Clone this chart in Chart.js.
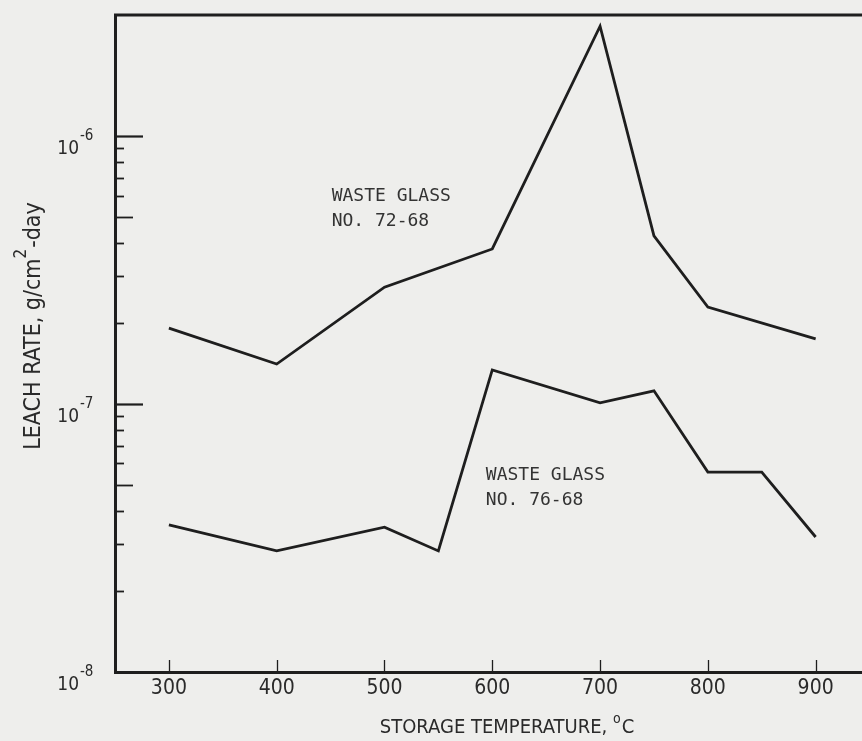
<!DOCTYPE html>
<html><head><meta charset="utf-8">
<script src="https://cdn.jsdelivr.net/npm/chart.js@4/dist/chart.umd.min.js"></script>
<style>html,body{margin:0;padding:0;background:#eeeeec;} #wrap{width:862px;height:741px;position:relative;}</style>
</head><body><div id="wrap"><canvas id="c" width="862" height="741"></canvas></div>
<script>
// ---- data ----
const temps7268 = [300, 400, 500, 600, 700, 750, 800, 900];
const leach7268 = [1.92e-7, 1.41e-7, 2.73e-7, 3.79e-7, 2.57e-6, 4.24e-7, 2.30e-7, 1.75e-7];
const temps7668 = [300, 400, 500, 550, 600, 700, 750, 800, 850, 900];
const leach7668 = [3.54e-8, 2.83e-8, 3.47e-8, 2.83e-8, 1.34e-7, 1.01e-7, 1.12e-7, 5.57e-8, 5.57e-8, 3.19e-8];
const xTickLabels = [300, 400, 500, 600, 700, 800, 900];
const yDecades = [1e-8, 1e-7, 1e-6];
const yDecadeExponents = ['-8', '-7', '-6'];
const seriesNames = [['WASTE GLASS', 'NO. 72-68'], ['WASTE GLASS', 'NO. 76-68']];
const xTitle = 'STORAGE TEMPERATURE, ';
const xTitleUnit = 'C';
const yTitleParts = ['LEACH RATE, g/cm', '2', '-day'];

const INK = '#1e1e1e';
const TXT = '#2a2a2a';
const NARROW = '"Liberation Sans Narrow", "DejaVu Sans Condensed", "Arial Narrow", sans-serif';
const MONO = '"DejaVu Sans Mono", "Liberation Mono", monospace';

const decor = {
  id: 'decor',
  beforeDraw(chart) {
    const c = chart.ctx;
    c.save(); c.fillStyle = '#eeeeec'; c.fillRect(0, 0, chart.width, chart.height); c.restore();
  },
  afterDraw(chart) {
    const c = chart.ctx, a = chart.chartArea;
    const xs = chart.scales.x, ys = chart.scales.y;
    c.save();
    c.strokeStyle = INK;
    // top frame line
    c.lineWidth = 3;
    c.beginPath(); c.moveTo(a.left - 1, a.top); c.lineTo(a.right, a.top); c.stroke();
    // y ticks (inward)
    for (let d = 0; d < yDecades.length; d++) {
      for (let m = 1; m <= 9; m++) {
        const v = m * yDecades[d];
        if (v > 1e-6 * 1.0001 || (d === 0 && m === 1)) continue;
        const len = m === 1 ? 28 : (m === 5 ? 18 : 9);
        const py = Math.round(ys.getPixelForValue(v)) + 0.5;
        c.lineWidth = m === 1 ? 2.2 : 1.8;
        c.beginPath(); c.moveTo(a.left, py); c.lineTo(a.left + len, py); c.stroke();
      }
    }
    // x ticks (inward)
    c.lineWidth = 1.3;
    xTickLabels.forEach(v => {
      const px = Math.round(xs.getPixelForValue(v)) + 0.5;
      c.beginPath(); c.moveTo(px, a.bottom); c.lineTo(px, a.bottom - 12); c.stroke();
    });
    // x tick labels
    c.fillStyle = TXT;
    c.font = '21px ' + NARROW;
    c.textAlign = 'center'; c.textBaseline = 'middle';
    xTickLabels.forEach(v => {
      c.fillText(String(v), xs.getPixelForValue(v), a.bottom + 17);
    });
    // y tick labels 10^n
    yDecades.forEach((v, i) => {
      const py = ys.getPixelForValue(v);
      c.font = '19px ' + NARROW;
      c.textAlign = 'right'; c.textBaseline = 'middle';
      c.fillText('10', a.left - 36, py + 13);
      c.font = '15px ' + NARROW;
      c.textAlign = 'left';
      c.fillText(yDecadeExponents[i], a.left - 35, py);
    });
    // x title
    c.font = '20px ' + NARROW;
    c.textBaseline = 'middle'; c.textAlign = 'left';
    const w1 = c.measureText(xTitle).width;
    c.font = '14px ' + NARROW; const wo = c.measureText('o').width + 1;
    c.font = '20px ' + NARROW; const w2 = c.measureText(xTitleUnit).width;
    const cx = 507, cy = a.bottom + 56;
    let x0 = cx - (w1 + wo + w2) / 2;
    c.fillText(xTitle, x0, cy);
    c.font = '14px ' + NARROW; c.fillText('o', x0 + w1, cy - 9);
    c.font = '20px ' + NARROW; c.fillText(xTitleUnit, x0 + w1 + wo, cy);
    // y title (rotated)
    c.save();
    c.translate(34, 326); c.rotate(-Math.PI / 2);
    c.font = '23px ' + NARROW;
    const p0 = c.measureText(yTitleParts[0]).width;
    c.font = '17px ' + NARROW; const p1 = c.measureText(yTitleParts[1]).width + 1;
    c.font = '23px ' + NARROW; const p2 = c.measureText(yTitleParts[2]).width;
    let t0 = -(p0 + p1 + p2) / 2;
    c.textAlign = 'left'; c.textBaseline = 'middle';
    c.fillText(yTitleParts[0], t0, 0);
    c.font = '17px ' + NARROW; c.fillText(yTitleParts[1], t0 + p0, -12);
    c.font = '23px ' + NARROW; c.fillText(yTitleParts[2], t0 + p0 + p1, 0);
    c.restore();
    // series annotations
    const anchors = [{x: 451, y: 5.95e-7}, {x: 594, y: 5.43e-8}];
    c.font = '18px ' + MONO; c.fillStyle = '#333';
    c.textAlign = 'left'; c.textBaseline = 'middle';
    seriesNames.forEach((lines, i) => {
      const px = xs.getPixelForValue(anchors[i].x), py = ys.getPixelForValue(anchors[i].y);
      lines.forEach((t, j) => c.fillText(t, px, py + j * 25));
    });
    c.restore();
  }
};

new Chart(document.getElementById('c'), {
  type: 'line',
  data: {
    datasets: [
      { label: 'Waste glass No. 72-68', data: temps7268.map((t, i) => ({x: t, y: leach7268[i]})),
        borderColor: INK, borderWidth: 2.8, pointRadius: 0, tension: 0, fill: false },
      { label: 'Waste glass No. 76-68', data: temps7668.map((t, i) => ({x: t, y: leach7668[i]})),
        borderColor: INK, borderWidth: 2.8, pointRadius: 0, tension: 0, fill: false }
    ]
  },
  options: {
    responsive: false, animation: false, devicePixelRatio: 1,
    layout: { padding: { left: 0, right: 0, top: 15, bottom: 0 } },
    plugins: { legend: { display: false }, tooltip: { enabled: false } },
    scales: {
      x: { type: 'linear', min: 250, max: 943,
           afterBuildTicks: s => { s.ticks = xTickLabels.map(v => ({ value: v })); },
           ticks: { display: false }, grid: { display: false, drawTicks: false },
           border: { display: true, color: INK, width: 3 },
           afterFit: s => { s.height = 69; } },
      y: { type: 'logarithmic', min: 1e-8, max: 2.83e-6,
           ticks: { display: false }, grid: { display: false, drawTicks: false },
           border: { display: true, color: INK, width: 3 },
           afterFit: s => { s.width = 115; } }
    }
  },
  plugins: [decor]
});
</script></body></html>
